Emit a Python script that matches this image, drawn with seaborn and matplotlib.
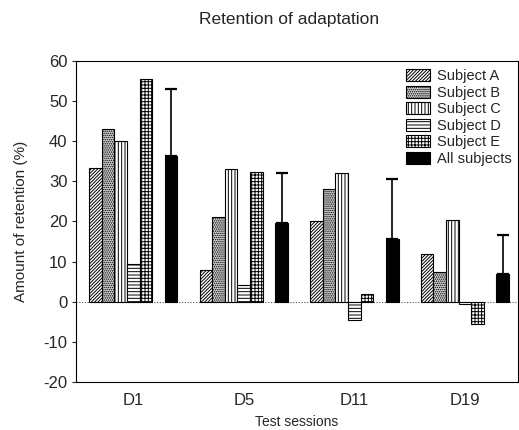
import numpy as np
import pandas as pd
import matplotlib
matplotlib.use("Agg")
import matplotlib.pyplot as plt
import seaborn as sns
from matplotlib.patches import Patch

sessions = ["D1", "D5", "D11", "D19"]
subject_a = [33.4, 8.0, 20.0, 12.0]
subject_b = [43.0, 21.0, 28.0, 7.5]
subject_c = [40.0, 33.0, 32.0, 20.3]
subject_d = [9.5, 4.2, -4.5, -0.5]
subject_e = [55.5, 32.3, 1.8, -5.5]
all_subjects = [36.3, 19.7, 15.7, 6.8]
all_err_up = [16.7, 12.3, 14.8, 9.9]

series_names = ["Subject A", "Subject B", "Subject C", "Subject D", "Subject E", "gap", "All subjects"]
series_vals = [subject_a, subject_b, subject_c, subject_d, subject_e, [0, 0, 0, 0], all_subjects]

rows = []
for name, vals in zip(series_names, series_vals):
    for s, v in zip(sessions, vals):
        rows.append({"session": s, "series": name, "value": v})
df = pd.DataFrame(rows)

sns.set_theme(style="white")
plt.rcParams['font.family'] = ['Liberation Sans', 'DejaVu Sans']
plt.rcParams['hatch.linewidth'] = 0.7
plt.rcParams['axes.unicode_minus'] = False

fig = plt.figure(figsize=(5.19, 4.30), dpi=100)
ax = fig.add_axes([0.146, 0.112, 0.852, 0.746])

palette = {"Subject A": "white", "Subject B": "#d0d0d0", "Subject C": "white",
           "Subject D": "white", "Subject E": "white", "gap": "white", "All subjects": "black"}
sns.barplot(data=df, x="session", y="value", hue="series", hue_order=series_names,
            order=sessions, palette=palette, errorbar=None, width=0.8,
            edgecolor="black", linewidth=0.8, ax=ax, legend=False)

hatches = {"Subject A": "//////////", "Subject B": "........", "Subject C": "|||||",
           "Subject D": "-----", "Subject E": "+++++", "gap": "", "All subjects": ""}

for cont, name in zip(ax.containers, series_names):
    for p in cont:
        p.set_hatch(hatches[name])
        if name == "gap":
            p.set_visible(False)

# error bars for all subjects (upper only)
all_cont = ax.containers[series_names.index("All subjects")]
xs = [p.get_x() + p.get_width() / 2 for p in all_cont]
ax.errorbar(xs, all_subjects, yerr=[np.zeros(len(all_err_up)), all_err_up],
            fmt="none", ecolor="black", elinewidth=1.2, capsize=4, capthick=1.6)

ax.axhline(0, color="#555555", lw=0.8, ls=(0, (1, 1.5)), zorder=0)

ax.set_ylim(-20, 60)
ax.set_xlim(-0.52, 3.48)
ax.set_yticks(range(-20, 61, 10))
ax.tick_params(axis="y", labelsize=12, length=3, left=True, width=0.8, pad=3)
ax.tick_params(axis="x", labelsize=12, length=0, pad=8)
for sp in ax.spines.values():
    sp.set_color("black")
    sp.set_linewidth(0.8)
ax.spines["top"].set_linestyle((0, (4, 1)))

ax.set_xlabel("Test sessions", fontsize=10, labelpad=5)
ax.set_ylabel("Amount of retention (%)", fontsize=11, labelpad=11)
fig.text(0.557, 0.955, "Retention of adaptation", ha="center", va="center", fontsize=12.5)

handles = [Patch(facecolor=palette[n], edgecolor="black", hatch=hatches[n], lw=0.8)
           for n in series_names if n != "gap"]
labels = [n for n in series_names if n != "gap"]
ax.legend(handles, labels, loc="upper right", bbox_to_anchor=(1.003, 1.0), frameon=False,
          fontsize=10.5, handlelength=1.65, handleheight=0.9, labelspacing=0.17,
          handletextpad=0.45, borderaxespad=0.15)

fig.savefig("out.png", dpi=100)
